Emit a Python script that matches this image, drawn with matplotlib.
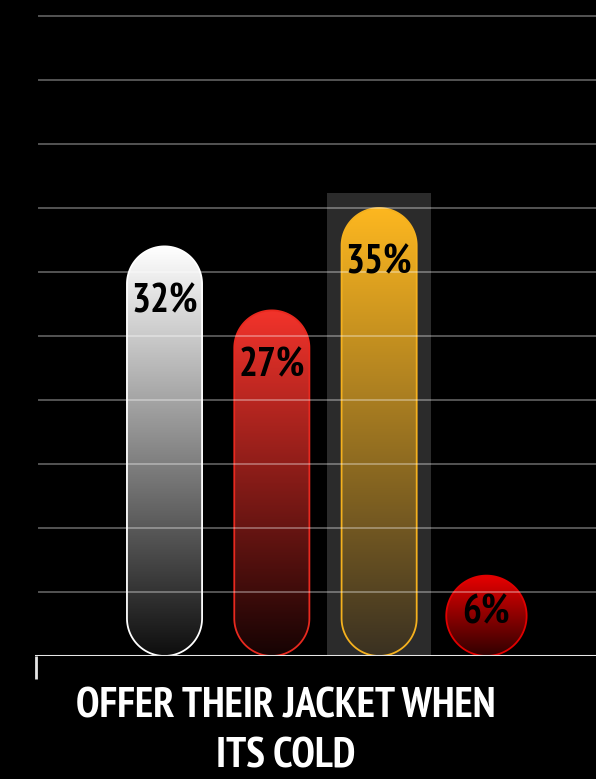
import matplotlib
matplotlib.use("Agg")
import matplotlib.pyplot as plt
from matplotlib.patches import PathPatch, Rectangle
from matplotlib.path import Path
from matplotlib.colors import LinearSegmentedColormap
from matplotlib import font_manager
import numpy as np

# data
values = [32, 27, 35, 6]
labels = ["32%", "27%", "35%", "6%"]
top_colors = ["#ffffff", "#f2332b", "#fdb71f", "#e80000"]
bottom_colors = ["#0e0e0e", "#160303", "#3a3122", "#300000"]
edge_colors = ["#ffffff", "#e8291f", "#f5b11e", "#e00000"]
title = "OFFER THEIR JACKET WHEN\nITS COLD"
grid_levels = [5, 10, 15, 20, 25, 30, 35, 40, 45, 50]


def pick_font():
    # look for a narrow / condensed bold face, fall back to DejaVu Sans bold
    narrow = []
    for f in font_manager.fontManager.ttflist:
        name = f.name.lower()
        fn = f.fname.lower()
        is_narrow = ("narrow" in name or "condensed" in name or "condensed" in fn
                     or "narrow" in fn or str(f.stretch) in ("condensed", "semi-condensed",
                                                           "extra-condensed"))
        bold = (isinstance(f.weight, int) and f.weight >= 600) or "bold" in str(f.weight)
        if is_narrow and bold and "oblique" not in fn and "italic" not in fn:
            narrow.append(f.fname)
    if narrow:
        narrow.sort(key=lambda p: ("narrow" not in p.lower(), p))
        return font_manager.FontProperties(fname=narrow[0])
    return font_manager.FontProperties(family="DejaVu Sans", weight="bold")


fp = pick_font()

W, H = 596, 779
fig = plt.figure(figsize=(W / 100, H / 100), dpi=100, facecolor="black")
ax = fig.add_axes([35 / W, 123 / H, 561 / W, 656 / H])
ax.set_facecolor("black")

x0, x1 = -1.207, 4.021
y0, y1 = 0, 51.25
ax.set_xlim(x0, x1)
ax.set_ylim(y0, y1)
ax.axis("off")

# pixels per data unit, used to keep the pill ends round
px_x = 561 / (x1 - x0)
px_y = 656 / (y1 - y0)
bar_w = 0.70


def pill_path(xc, h, r_x):
    r_y = min(r_x * px_x / px_y, h / 2)
    t_top = np.linspace(0, np.pi, 60)
    t_bot = np.linspace(np.pi, 2 * np.pi, 60)
    top = np.column_stack([xc + r_x * np.cos(t_top), h - r_y + r_y * np.sin(t_top)])
    bot = np.column_stack([xc + r_x * np.cos(t_bot), r_y + r_y * np.sin(t_bot)])
    verts = np.vstack([top, bot, top[:1]])
    codes = [Path.MOVETO] + [Path.LINETO] * (len(verts) - 2) + [Path.CLOSEPOLY]
    return Path(verts, codes)


# highlight behind the biggest bar
imax = int(np.argmax(values))
ax.add_patch(Rectangle((imax - 0.485, 0), 0.97, values[imax] + 1.2,
                       facecolor="#2b2b2b", edgecolor="none", zorder=1))

for i, v in enumerate(values):
    # very short bars are drawn as a round bubble, a bit wider than the pills
    r_x = bar_w / 2
    if v * px_y < 1.2 * bar_w * px_x:
        r_x = bar_w / 2 * 1.07
    h = max(v, 2 * r_x * px_x / px_y)
    pill = PathPatch(pill_path(i, h, r_x), facecolor="none",
                     edgecolor=edge_colors[i], linewidth=1.3, zorder=2.5)
    ax.add_patch(pill)
    cmap = LinearSegmentedColormap.from_list(f"g{i}", [bottom_colors[i], top_colors[i]])
    grad = np.linspace(0, 1, 256).reshape(-1, 1)
    im = ax.imshow(grad, cmap=cmap, aspect="auto", origin="lower",
                   extent=[i - r_x, i + r_x, 0, h], zorder=2)
    im.set_clip_path(pill)
    ax.text(i, max(v - 4.3, h / 2 + 0.2), labels[i], ha="center", va="center",
            color="black", fontproperties=fp, fontsize=28.5, zorder=4)

ax.set_xlim(x0, x1)
ax.set_ylim(y0, y1)

for g in grid_levels:
    ax.axhline(g, xmin=4 / 561, xmax=1, color="white", alpha=0.33, lw=1.4, zorder=3)

ax.axhline(0, color="#e6e6e6", lw=2.2, zorder=5)
ax.plot([x0 + 0.01, x0 + 0.01], [0, -1.8], color="#e6e6e6", lw=2.0,
        clip_on=False, zorder=5, solid_capstyle="butt")

fig.text(286 / W, 1 - 732 / H, title, ha="center", va="center", color="white",
         fontproperties=fp, fontsize=30.5, linespacing=1.38)

fig.savefig("out.png", dpi=100, facecolor="black")
